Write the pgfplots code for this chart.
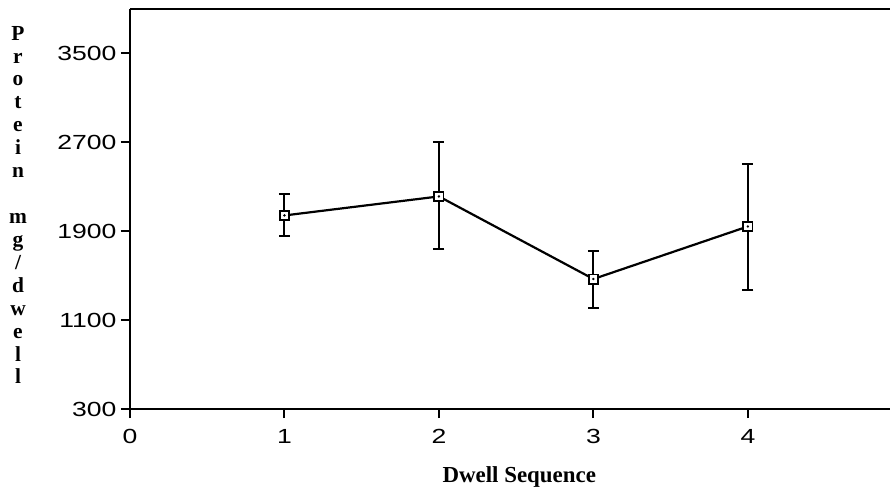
\documentclass[border=0pt]{standalone}
\usepackage{pgfplots}
\usepackage{pgfplotstable}
\pgfplotsset{compat=1.18}
\usepackage{fontspec}
\setmainfont{Liberation Serif}
\newfontfamily\tickfont{Liberation Sans}[FakeStretch=1.3]

\pgfplotstableread{
x y ep em
1 2042 189 182
2 2213 492 473
3 1470 248 264
4 1943 561 575
}\data

\begin{document}
\begin{tikzpicture}
\begin{axis}[
  scale only axis, width=760bp, height=400bp,
  xmin=0, xmax=4.92, ymin=300, ymax=3900,
  axis x line*=box, axis y line*=left,
  xtick={0,1,2,3,4}, ytick={300,1100,1900,2700,3500},
  xtick pos=left, ytick pos=left,
  tick align=outside, major tick length=9bp,
  axis line style={line width=2.4bp, black},
  tick style={line width=2bp, black},
  ticklabel style={font=\tickfont\fontsize{20.5}{20.5}\selectfont},
  xticklabel style={yshift=-8bp},
  yticklabel style={xshift=-1bp},
  /pgf/number format/assume math mode=true,
  /pgf/number format/1000 sep={},
  scaled ticks=false,
  clip=false,
]
\coordinate (SW) at (rel axis cs:0,0);
\coordinate (NE) at (rel axis cs:1,1);
% error bars (drawn first, behind the markers)
\addplot[draw=none, mark=none, forget plot,
  error bars/.cd, y dir=both, y explicit,
  error bar style={draw=black, line width=2bp},
  error mark=-,
  error mark options={rotate=90, draw=black, mark size=5.5bp, line width=2bp}]
  table[x=x, y=y, y error plus=ep, y error minus=em] {\data};
% line with open squares
\addplot[black, line width=2.2bp, mark=square*,
  mark options={fill=white, draw=black, line width=1.8bp, solid}, mark size=4.6bp]
  table[x=x, y=y] {\data};
% tiny centre dots
\addplot[only marks, mark=*, mark size=1bp, black] table[x=x, y=y] {\data};
\node[font=\bfseries\fontsize{23}{23}\selectfont] at (axis cs:2.52,300) [yshift=-68bp] {Dwell Sequence};
\node[font=\bfseries\fontsize{21.5}{23}\selectfont, align=center, inner sep=0pt]
  at (rel axis cs:0,0.5) [xshift=-112bp, yshift=4bp]
  {P\\r\\o\\t\\e\\i\\n\\[23bp]m\\g\\/\\d\\w\\e\\l\\l};
\end{axis}
\pgfresetboundingbox
\path[use as bounding box] ([shift={(-130bp,-84bp)}]SW) rectangle ([shift={(0bp,9bp)}]NE);
\end{tikzpicture}
\end{document}
